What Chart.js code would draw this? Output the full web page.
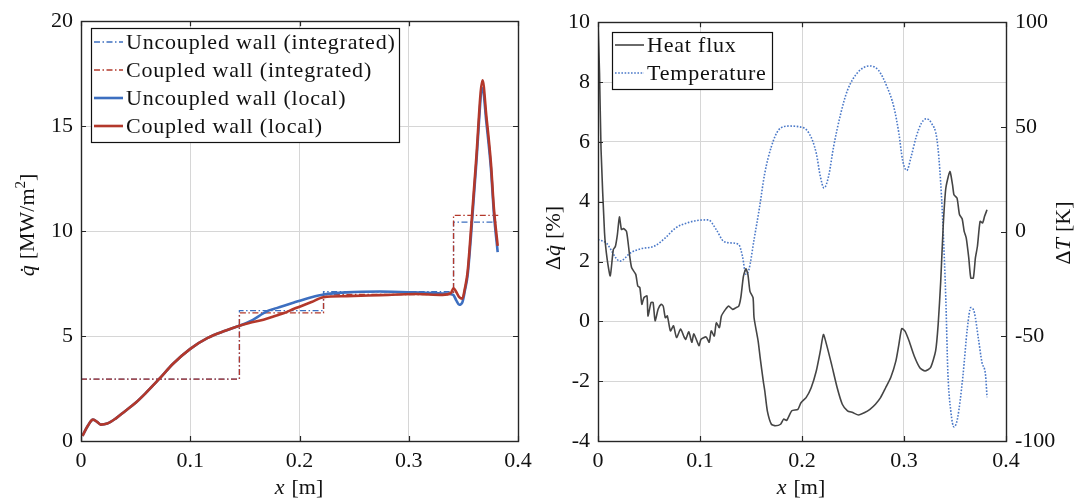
<!DOCTYPE html>
<html>
<head>
<meta charset="utf-8">
<script src="https://cdn.jsdelivr.net/npm/chart.js@4.4.0/dist/chart.umd.min.js"></script>
<style>
  html,body{margin:0;padding:0;background:#fff;}
  #wrap{position:relative;width:1078px;height:502px;}
  canvas{position:absolute;top:0;}
</style>
</head>
<body>
<div id="wrap">
  <canvas id="c1" width="539" height="502" style="left:0;width:539px;height:502px"></canvas>
  <canvas id="c2" width="539" height="502" style="left:539px;width:539px;height:502px"></canvas>
</div>
<script>
// ---------------- DATA ----------------
// Left panel: local heat flux [MW/m^2]
const coupledLocalX   = [0.0013,0.006,0.011,0.015,0.018,0.024,0.032,0.040,0.050,0.059,0.072,0.0845,0.100,0.116,0.132,0.145,0.154,0.167,0.179,0.186,0.195,0.211,0.222,0.243,0.274,0.306,0.331,0.3385,0.341,0.3435,0.3462,0.349,0.3515,0.3539,0.357,0.3615,0.3676,0.371,0.3752,0.378,0.3814];
const coupledLocalQ   = [0.24,0.7,1.02,0.9,0.78,0.83,1.08,1.41,1.82,2.27,2.98,3.69,4.39,4.91,5.25,5.49,5.62,5.78,5.98,6.1,6.3,6.62,6.85,6.9,6.95,7.0,6.96,7.04,7.28,7.1,6.85,6.78,7.3,8.07,10.1,13.25,17.18,15.5,13.25,11.05,9.3];
const uncoupledLocalX = [0.0013,0.006,0.011,0.015,0.018,0.024,0.032,0.040,0.050,0.059,0.072,0.0845,0.100,0.116,0.132,0.145,0.154,0.1715,0.179,0.195,0.211,0.222,0.243,0.274,0.306,0.331,0.3385,0.341,0.3435,0.3462,0.349,0.3515,0.3539,0.357,0.3615,0.3676,0.371,0.3752,0.378,0.3814];
const uncoupledLocalQ = [0.24,0.7,1.02,0.9,0.78,0.83,1.08,1.41,1.82,2.27,2.98,3.69,4.39,4.91,5.25,5.49,5.68,6.21,6.33,6.6,6.85,6.98,7.08,7.12,7.08,7.03,7.0,6.95,6.7,6.49,6.6,7.2,7.9,9.8,13.0,16.8,15.2,13.0,10.8,9.0];
// Left panel: integrated (piecewise constant) heat flux
const integEdges      = [0, 0.145, 0.222, 0.341, 0.382];
const uncoupledInteg  = [2.95, 6.21, 7.11, 10.43];
const coupledInteg    = [2.95, 6.10, 6.98, 10.75];

// Right panel: heat flux difference [%]
const fluxX = [0,0.0015,0.003,0.0064,0.009,0.012,0.015,0.017,0.019,0.021,0.023,0.025,0.028,0.031,0.033,0.037,0.039,0.041,0.043,0.045,0.048,0.049,0.052,0.054,0.056,0.059,0.062,0.064,0.066,0.068,0.071,0.074,0.077,0.081,0.084,0.086,0.089,0.092,0.094,0.099,0.101,0.106,0.109,0.111,0.114,0.116,0.119,0.121,0.125,0.128,0.132,0.135,0.138,0.140,0.1426,0.145,0.147,0.149,0.152,0.153,0.157,0.159,0.162,0.1635,0.166,0.170,0.174,0.179,0.182,0.185,0.190,0.196,0.199,0.204,0.209,0.214,0.218,0.221,0.224,0.229,0.2345,0.2395,0.2446,0.2497,0.2554,0.2615,0.2666,0.272,0.277,0.282,0.287,0.292,0.295,0.2978,0.301,0.305,0.310,0.3155,0.3206,0.326,0.331,0.3335,0.336,0.3385,0.341,0.345,0.3476,0.349,0.352,0.3544,0.357,0.359,0.361,0.3635,0.3655,0.368,0.370,0.372,0.3746,0.377,0.379,0.3814];
const fluxDiff = [10,8.3,5.73,2.96,2.07,1.52,2.4,2.5,2.9,3.49,3.07,3.1,3.0,2.2,1.79,1.57,1.18,1.13,0.57,0.79,0.85,0.18,0.63,0.63,0.02,0.41,0.57,0.5,0.12,0.18,-0.32,-0.15,-0.54,-0.26,-0.49,-0.60,-0.35,-0.70,-0.42,-0.81,-0.60,-0.52,-0.70,-0.32,-0.49,-0.05,-0.21,0.18,0.40,0.51,0.40,0.45,0.51,0.79,1.51,1.76,1.56,1.0,0.79,0.12,-0.66,-1.22,-1.99,-2.32,-2.99,-3.44,-3.49,-3.44,-3.27,-3.31,-2.99,-2.94,-2.72,-2.55,-2.22,-1.66,-0.99,-0.44,-0.77,-1.44,-2.22,-2.77,-2.99,-3.05,-3.13,-3.05,-2.94,-2.77,-2.55,-2.22,-1.88,-1.33,-0.77,-0.24,-0.33,-0.66,-1.16,-1.55,-1.66,-1.55,-0.99,-0.10,1.34,3.23,4.45,5.01,4.56,4.23,4.12,3.57,3.43,3.01,2.79,2.12,1.45,1.45,2.12,2.51,3.34,3.29,3.51,3.73];
// Right panel: temperature difference [K]
const tempX = [0,0.008,0.0216,0.032,0.042,0.055,0.066,0.076,0.089,0.099,0.108,0.116,0.123,0.130,0.138,0.1416,0.145,0.148,0.153,0.158,0.1635,0.170,0.177,0.187,0.197,0.207,0.214,0.218,0.2216,0.226,0.231,0.238,0.2446,0.255,0.2666,0.275,0.2834,0.290,0.295,0.2986,0.3027,0.307,0.312,0.317,0.322,0.327,0.3324,0.336,0.3385,0.341,0.343,0.346,0.349,0.3524,0.3578,0.362,0.3655,0.369,0.373,0.3764,0.380,0.3814];
const tempDiff = [-3.8,-5.4,-14.1,-10.1,-8.2,-7.0,-3.0,1.7,4.4,5.4,5.6,0.95,-4.6,-5.4,-6.2,-11.7,-20.4,-18.1,-3.8,10.5,27.9,40.6,48.5,50.4,50.1,46.9,37.4,26.3,20.8,26.3,40.6,56.4,67.5,76.2,79.1,77.0,69.1,59.6,46.9,34.2,29.2,35.8,45.3,51.7,53.9,51.7,43.7,23.1,-0.6,-32.3,-67.2,-86.2,-93.3,-89.4,-68.8,-46.6,-36.3,-38.7,-51.3,-62.4,-68.8,-79.1];

// Tick labels
const xTickLabels     = ['0','0.1','0.2','0.3','0.4'];
const qTickLabels     = ['0','5','10','15','20'];
const dqTickLabels    = ['-4','-2','0','2','4','6','8','10'];
const dTTickLabels    = ['-100','-50','0','50','100'];

// Legend labels
const leftLegend  = ['Uncoupled wall (integrated)','Coupled wall (integrated)','Uncoupled wall (local)','Coupled wall (local)'];
const rightLegend = ['Heat flux','Temperature'];

// ---------------- STYLE ----------------
const FONT = "'Liberation Serif', 'Times New Roman', serif";
const BLUE = '#3d6fc0';
const RED  = '#b3382b';
const GRAY = '#454545';
const TBLUE = '#4a78c8';
const GRID = '#d6d6d6';
const AXC  = '#262626';
const DASHDOT = [6,2.5,1.5,2.5];

function pts(xs, ys){ return xs.map((x,i)=>({x:x, y:ys[i]})); }
function stepPts(edges, vals){
  const out = edges.slice(0,-1).map((e,i)=>({x:e, y:vals[i]}));
  out.push({x:edges[edges.length-1], y:vals[vals.length-1]});
  return out;
}

// draw mixed-style text centred at (cx,cy), optional rotation
function drawRich(ctx, pieces, cx, cy, rot){
  ctx.save();
  ctx.translate(cx, cy);
  if (rot) ctx.rotate(rot);
  ctx.textBaseline = 'alphabetic';
  ctx.textAlign = 'left';
  ctx.fillStyle = '#111';
  let total = 0;
  pieces.forEach(p=>{ ctx.font = p.font; p.w = ctx.measureText(p.t).width; total += p.w + (p.gap||0); });
  let x = -total/2;
  pieces.forEach(p=>{ ctx.font = p.font; ctx.fillText(p.t, x, 7 + (p.dy||0)); x += p.w + (p.gap||0); });
  ctx.restore();
}

function framePlugin(opts){
  return {
    id: 'frame_' + opts.name,
    afterDraw(chart){
      const ctx = chart.ctx, a = chart.chartArea;
      const xs = chart.scales.x;
      ctx.save();
      // inside ticks
      ctx.strokeStyle = AXC; ctx.lineWidth = 1.2;
      const TL = 5;
      ctx.beginPath();
      xs.ticks.forEach(t=>{
        const px = Math.round(xs.getPixelForValue(t.value))+0.5;
        ctx.moveTo(px, a.bottom); ctx.lineTo(px, a.bottom-TL);
        ctx.moveTo(px, a.top); ctx.lineTo(px, a.top+TL);
      });
      const yl = chart.scales.y;
      yl.ticks.forEach(t=>{
        const py = Math.round(yl.getPixelForValue(t.value))+0.5;
        ctx.moveTo(a.left, py); ctx.lineTo(a.left+TL, py);
        if (!chart.scales.y2){ ctx.moveTo(a.right, py); ctx.lineTo(a.right-TL, py); }
      });
      if (chart.scales.y2){
        const yr = chart.scales.y2;
        yr.ticks.forEach(t=>{
          const py = Math.round(yr.getPixelForValue(t.value))+0.5;
          ctx.moveTo(a.right, py); ctx.lineTo(a.right-TL, py);
        });
      }
      ctx.stroke();
      // frame
      ctx.lineWidth = 1.4;
      ctx.strokeRect(Math.round(a.left)+0.5, Math.round(a.top)+0.5, Math.round(a.right-a.left), Math.round(a.bottom-a.top));
      // legend
      const L = opts.legend;
      ctx.fillStyle = '#fff';
      ctx.fillRect(L.x, L.y, L.w, L.h);
      ctx.strokeStyle = '#111'; ctx.lineWidth = 1.2;
      ctx.strokeRect(L.x+0.5, L.y+0.5, L.w, L.h);
      L.items.forEach((it,i)=>{
        const yy = L.rowY0 + i*L.rowH;
        ctx.save();
        ctx.strokeStyle = it.color; ctx.lineWidth = it.width; ctx.setLineDash(it.dash||[]);
        ctx.beginPath(); ctx.moveTo(L.sx0, yy); ctx.lineTo(L.sx1, yy); ctx.stroke();
        ctx.restore();
        ctx.save();
        ctx.fillStyle = '#111';
        ctx.font = '22px ' + FONT;
        try { ctx.letterSpacing = '0.8px'; } catch(e){}
        ctx.textBaseline = 'middle';
        ctx.fillText(it.text, L.tx, yy+1);
        ctx.restore();
      });
      // axis titles
      opts.titles.forEach(T=>drawRich(ctx, T.pieces, T.cx, T.cy, T.rot));
      ctx.restore();
    }
  };
}

const tickFont = {family: FONT, size: 22};

// ---------------- LEFT CHART ----------------
new Chart(document.getElementById('c1'), {
  type: 'line',
  data: {
    datasets: [
      {label: leftLegend[3], data: pts(coupledLocalX, coupledLocalQ), borderColor: RED, borderWidth: 2.6, pointRadius: 0, cubicInterpolationMode: 'monotone', order: 0},
      {label: leftLegend[2], data: pts(uncoupledLocalX, uncoupledLocalQ), borderColor: BLUE, borderWidth: 2.6, pointRadius: 0, cubicInterpolationMode: 'monotone', order: 1},
      {label: leftLegend[1], data: stepPts(integEdges, coupledInteg), borderColor: RED, borderWidth: 1.3, borderDash: DASHDOT, pointRadius: 0, stepped: 'before', order: 2},
      {label: leftLegend[0], data: stepPts(integEdges, uncoupledInteg), borderColor: BLUE, borderWidth: 1.3, borderDash: DASHDOT, pointRadius: 0, stepped: 'before', order: 3}
    ]
  },
  options: {
    responsive: false, animation: false, devicePixelRatio: 1,
    layout: {padding: {top: 17, right: 21, left: 0, bottom: 0}},
    plugins: {legend: {display: false}, tooltip: {enabled: false}},
    scales: {
      x: {type: 'linear', min: 0, max: 0.4,
          ticks: {stepSize: 0.1, font: tickFont, color: '#111', padding: 7, maxRotation: 0,
                  callback: (v,i)=>xTickLabels[i]},
          grid: {color: GRID, lineWidth: 1, drawTicks: false}, border: {display: false},
          afterFit: s=>{ s.height = 61; }},
      y: {type: 'linear', min: 0, max: 20,
          ticks: {stepSize: 5, font: tickFont, color: '#111', padding: 8,
                  callback: (v,i)=>qTickLabels[i]},
          grid: {color: GRID, lineWidth: 1, drawTicks: false}, border: {display: false},
          afterFit: s=>{ s.width = 81; }}
    }
  },
  plugins: [framePlugin({
    name: 'left',
    legend: {x: 91, y: 28, w: 308, h: 114, rowY0: 42, rowH: 28, sx0: 94, sx1: 123, tx: 126,
      items: [
        {text: leftLegend[0], color: BLUE, width: 1.3, dash: DASHDOT},
        {text: leftLegend[1], color: RED, width: 1.3, dash: DASHDOT},
        {text: leftLegend[2], color: BLUE, width: 2.6},
        {text: leftLegend[3], color: RED, width: 2.6}
      ]},
    titles: [
      {cx: 27, cy: 225, rot: -Math.PI/2, pieces: [
        {t: 'q\u0307', font: 'italic 22px ' + FONT, gap: 6},
        {t: '[MW/m', font: '22px ' + FONT},
        {t: '2', font: '15px ' + FONT, dy: -9},
        {t: ']', font: '22px ' + FONT}
      ]},
      {cx: 299, cy: 487, rot: 0, pieces: [
        {t: 'x', font: 'italic 22px ' + FONT, gap: 7},
        {t: '[m]', font: '22px ' + FONT}
      ]}
    ]
  })]
});

// ---------------- RIGHT CHART ----------------
new Chart(document.getElementById('c2'), {
  type: 'line',
  data: {
    datasets: [
      {label: rightLegend[0], data: pts(fluxX, fluxDiff), yAxisID: 'y', borderColor: GRAY, borderWidth: 1.6, pointRadius: 0, tension: 0.2, order: 0},
      {label: rightLegend[1], data: pts(tempX, tempDiff), yAxisID: 'y2', borderColor: TBLUE, borderWidth: 1.6, borderDash: [1.6,1.6], pointRadius: 0, cubicInterpolationMode: 'monotone', order: 1}
    ]
  },
  options: {
    responsive: false, animation: false, devicePixelRatio: 1,
    layout: {padding: {top: 20, right: 0, left: 0, bottom: 0}},
    plugins: {legend: {display: false}, tooltip: {enabled: false}},
    scales: {
      x: {type: 'linear', min: 0, max: 0.4,
          ticks: {stepSize: 0.1, font: tickFont, color: '#111', padding: 7, maxRotation: 0,
                  callback: (v,i)=>xTickLabels[i]},
          grid: {color: GRID, lineWidth: 1, drawTicks: false}, border: {display: false},
          afterFit: s=>{ s.height = 61; }},
      y: {type: 'linear', position: 'left', min: -4, max: 10,
          ticks: {stepSize: 2, font: tickFont, color: '#111', padding: 8,
                  callback: (v,i)=>dqTickLabels[i]},
          grid: {color: GRID, lineWidth: 1, drawTicks: false}, border: {display: false},
          afterFit: s=>{ s.width = 59; }},
      y2: {type: 'linear', position: 'right', min: -100, max: 100,
          ticks: {stepSize: 50, font: tickFont, color: '#111', padding: 9,
                  callback: (v,i)=>dTTickLabels[i]},
          grid: {display: false, drawTicks: false}, border: {display: false},
          afterFit: s=>{ s.width = 72; }}
    }
  },
  plugins: [framePlugin({
    name: 'right',
    legend: {x: 73, y: 32, w: 160, h: 57, rowY0: 45, rowH: 28, sx0: 76, sx1: 105, tx: 108,
      items: [
        {text: rightLegend[0], color: GRAY, width: 1.6},
        {text: rightLegend[1], color: TBLUE, width: 1.6, dash: [1.6,1.6]}
      ]},
    titles: [
      {cx: 14, cy: 238, rot: -Math.PI/2, pieces: [
        {t: '\u0394', font: '22px ' + FONT},
        {t: 'q\u0307', font: 'italic 22px ' + FONT, gap: 6},
        {t: '[%]', font: '22px ' + FONT}
      ]},
      {cx: 524, cy: 233, rot: -Math.PI/2, pieces: [
        {t: '\u0394', font: '22px ' + FONT},
        {t: 'T', font: 'italic 22px ' + FONT, gap: 6},
        {t: '[K]', font: '22px ' + FONT}
      ]},
      {cx: 262, cy: 487, rot: 0, pieces: [
        {t: 'x', font: 'italic 22px ' + FONT, gap: 7},
        {t: '[m]', font: '22px ' + FONT}
      ]}
    ]
  })]
});
</script>
</body>
</html>
